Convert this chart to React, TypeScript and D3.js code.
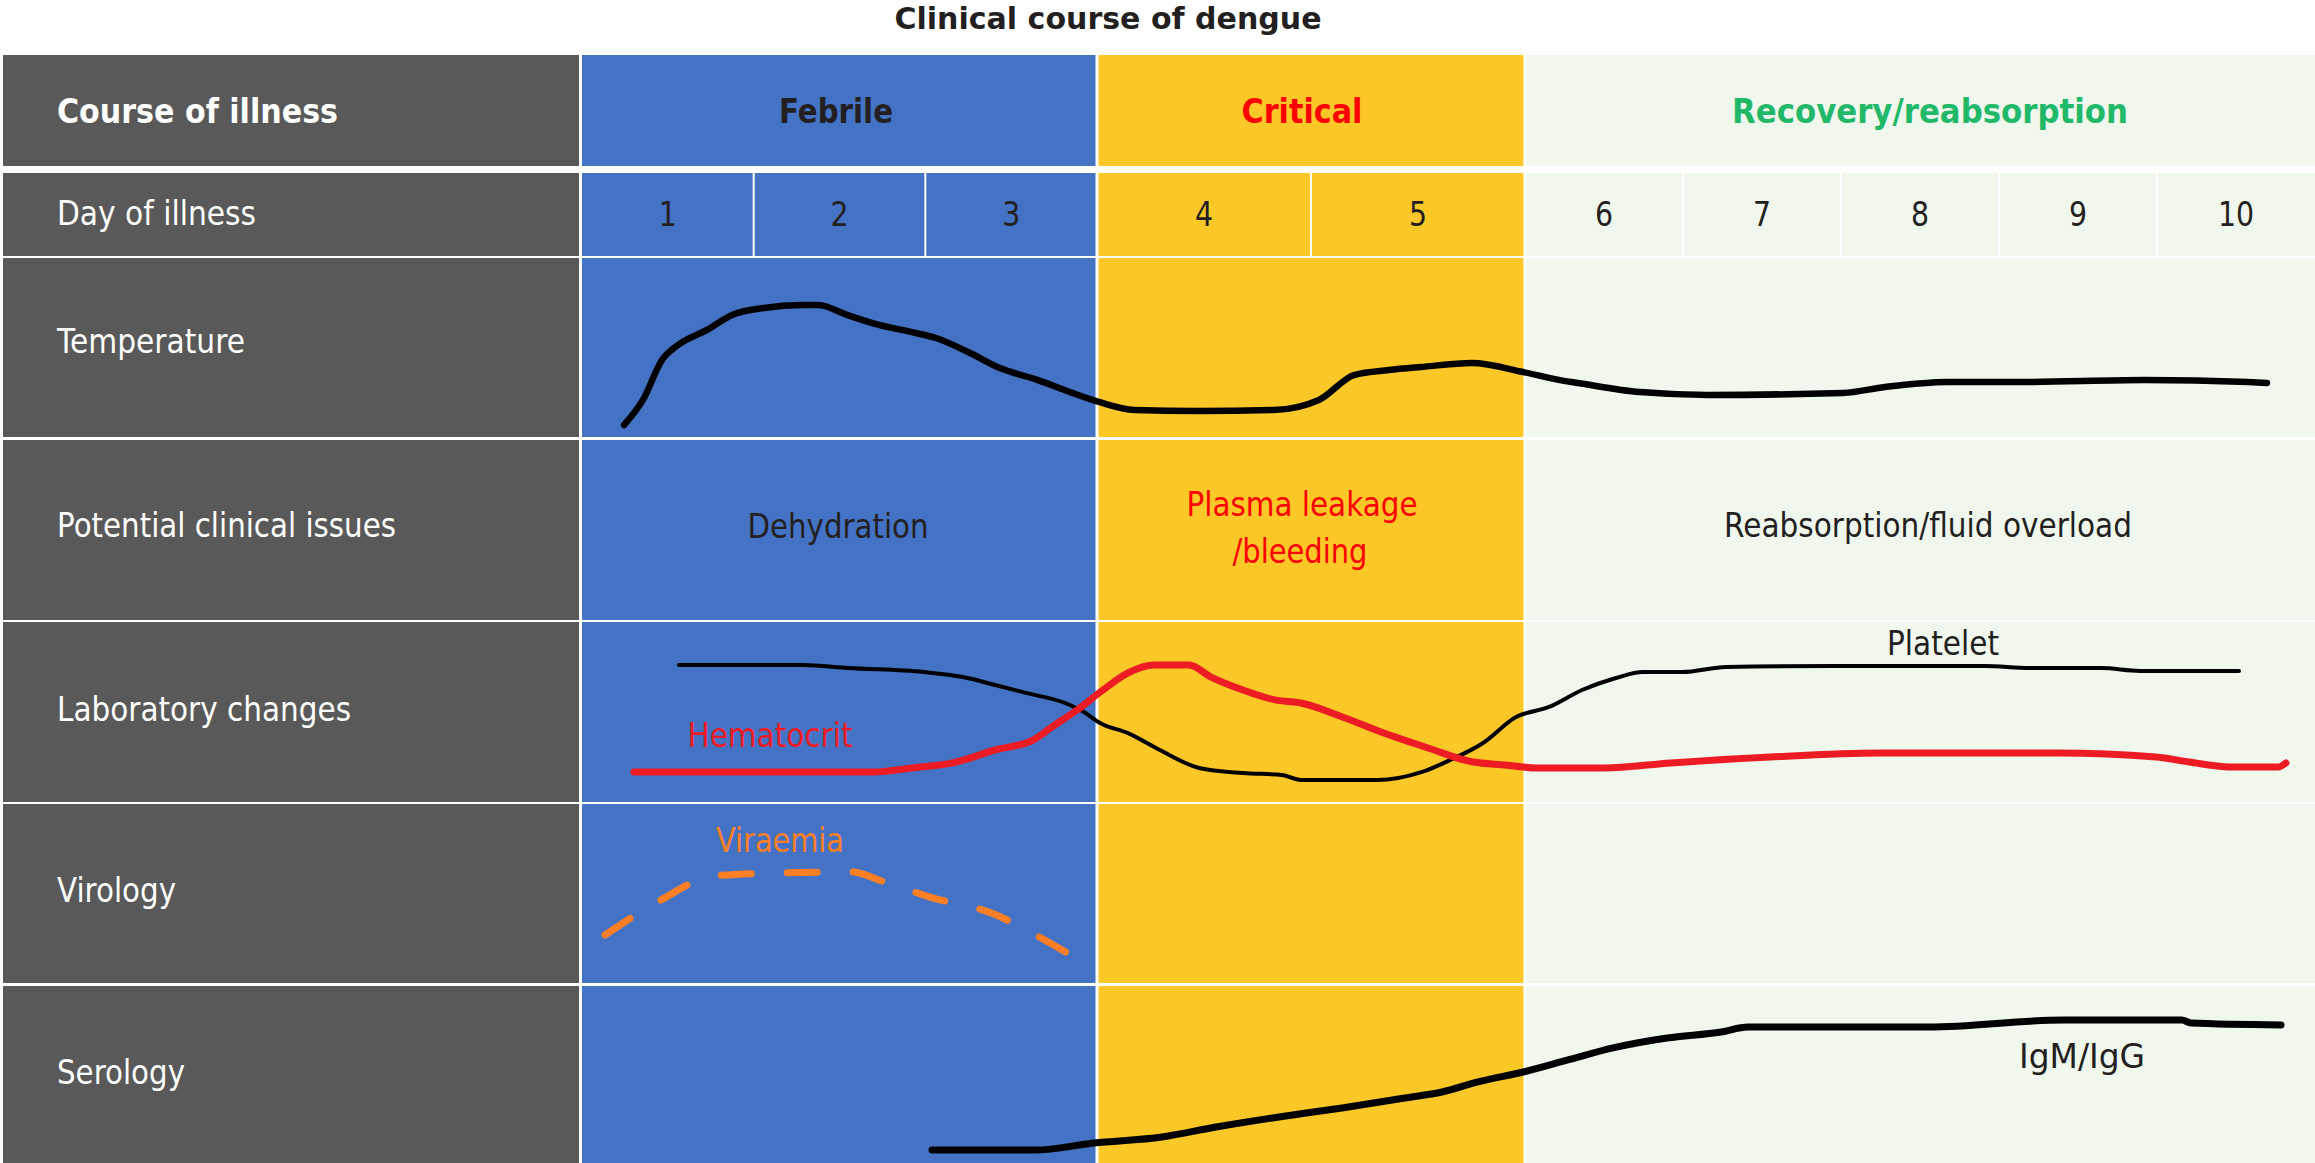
import React from "react";
import * as d3 from "d3";

// ---------- data ----------
const title = "Clinical course of dengue";
const phaseNames = ["Febrile", "Critical", "Recovery/reabsorption"];
const phaseSpans: [number, number][] = [[0, 3], [3, 5], [5, 10]];
const dayLabels = ["1", "2", "3", "4", "5", "6", "7", "8", "9", "10"];
const rowLabels = ["Course of illness", "Day of illness", "Temperature", "Potential clinical issues", "Laboratory changes", "Virology", "Serology"];
const issueTexts = ["Dehydration", "Plasma leakage", "/bleeding", "Reabsorption/fluid overload"];
const seriesNames = ["Platelet", "Hematocrit", "Viraemia", "IgM/IgG"];

// [day of illness, relative level 0-100 within its row]
const temperature: [number, number][] = [
  [0.245, 6.7], [0.355, 20.7], [0.466, 43.0], [0.559, 51.4], [0.728, 59.8], [0.874, 68.2],
  [1.06, 72.1], [1.282, 73.7], [1.375, 73.7], [1.544, 68.2], [1.73, 62.6], [1.917, 58.7],
  [2.062, 55.3], [2.249, 47.5], [2.435, 38.5], [2.656, 31.8], [2.843, 25.1], [3.009, 19.6],
  [3.173, 15.1], [3.472, 14.5], [3.827, 15.1], [4.037, 20.7], [4.201, 34.6], [4.364, 37.4],
  [4.514, 39.1], [4.752, 41.3], [4.991, 36.3], [5.222, 31.8], [5.335, 30.2], [5.728, 25.1],
  [6.158, 23.5], [7.013, 24.6], [7.278, 27.9], [7.671, 30.7], [8.133, 30.7], [8.918, 31.8],
  [9.576, 30.7], [9.696, 30.2],
];
const platelet: [number, number][] = [
  [0.565, 76.1], [1.287, 76.1], [1.55, 74.4], [1.992, 72.2], [2.219, 69.4], [2.406, 65.0],
  [2.586, 60.6], [2.814, 55.0], [2.924, 50.0], [3.014, 43.9], [3.145, 38.3], [3.294, 28.9],
  [3.477, 18.9], [3.682, 16.1], [3.864, 15.0], [3.953, 12.2], [4.308, 12.2], [4.519, 16.7],
  [4.65, 23.3], [4.804, 32.8], [4.958, 47.2], [5.152, 52.8], [5.361, 62.2], [5.576, 68.9],
  [5.747, 72.2], [5.994, 72.2], [6.272, 75.0], [6.968, 75.6], [7.911, 75.6], [8.19, 74.4],
  [8.646, 74.4], [8.892, 72.8], [9.519, 72.8],
];
const hematocrit: [number, number][] = [
  [0.303, 16.7], [1.695, 16.7], [1.922, 18.9], [2.179, 22.2], [2.406, 28.9], [2.627, 34.4],
  [2.738, 41.7], [2.884, 51.1], [3.028, 62.2], [3.145, 71.7], [3.266, 76.1], [3.43, 76.1],
  [3.533, 69.4], [3.682, 62.2], [3.832, 56.7], [3.953, 55.0], [4.159, 46.7], [4.341, 38.3],
  [4.547, 30.0], [4.757, 22.2], [4.907, 20.6], [5.076, 18.9], [5.5, 18.9], [5.924, 21.7],
  [6.551, 25.0], [7.247, 27.2], [8.367, 27.2], [8.994, 25.0], [9.203, 22.2], [9.481, 19.4],
  [9.766, 19.4], [9.816, 21.7],
];
const viraemia: [number, number][] = [
  [0.134, 26.8], [0.449, 45.8], [0.769, 59.8], [1.142, 61.5], [1.567, 62.0], [1.765, 56.4],
  [2.027, 48.0], [2.4, 38.5], [2.61, 28.5], [2.848, 15.6],
];
const serology: [number, number][] = [
  [2.039, 7.3], [2.639, 7.3], [2.982, 11.3], [3.304, 14.7], [3.556, 20.3], [3.85, 26.0],
  [4.145, 31.1], [4.439, 36.7], [4.612, 40.1], [4.78, 45.8], [4.991, 51.4], [5.272, 58.2],
  [5.557, 65.0], [5.899, 70.6], [6.241, 74.0], [6.411, 76.8], [7.557, 76.8], [8.411, 80.8],
  [9.158, 80.8], [9.215, 79.1], [9.785, 78.0],
];

// ---------- layout / style ----------
const W = 2315;
const H = 1163;
const FONT = "'DejaVu Sans', Verdana, sans-serif";
const DARK = "#231F20";
const GRAY = "#595959";
const phaseFill = ["#4472C4", "#FCC827", "#F0F7ED"];
const phaseText = [DARK, "#FF0000", "#22B86A"];
const rowBands: [number, number][] = [
  [55, 166], [173, 256], [258, 437], [440, 620], [622, 802], [804, 983], [986, 1163],
];
const labelBaselines = [123, 225, 353, 537, 721, 902, 1084];
const labelWidths = [281, 199, 188, 339, 294, 119, 128];
const grayX: [number, number] = [3, 579];

const xDay = d3.scaleLinear().domain([0, 3, 5, 10]).range([582, 1097, 1525, 2315]);
const rowScale = (band: [number, number]) => d3.scaleLinear().domain([0, 100]).range([band[1], band[0]]);
const yTemp = rowScale(rowBands[2]);
const yLab = rowScale(rowBands[4]);
const yVir = rowScale(rowBands[5]);
const ySer = rowScale(rowBands[6]);

const mkLine = (y: d3.ScaleLinear<number, number>) =>
  d3.line<[number, number]>().x((d) => xDay(d[0])).y((d) => y(d[1])).curve(d3.curveMonotoneX);

function Txt(props: { x: number; y: number; s: string; size?: number; bold?: boolean; fill?: string; anchor?: string; w?: number }) {
  const { x, y, s, size = 33, bold = false, fill = DARK, anchor = "middle", w } = props;
  return (
    <text
      x={x}
      y={y}
      fontFamily={FONT}
      fontSize={size}
      fontWeight={bold ? "bold" : "normal"}
      fill={fill}
      textAnchor={anchor}
      textLength={w}
      lengthAdjust={w ? "spacingAndGlyphs" : undefined}
    >
      {s}
    </text>
  );
}

export default function App() {
  const gap = 1.5;
  const phaseX = phaseSpans.map(([a, b]) => [a === 0 ? xDay(a) : xDay(a) + gap, b === 10 ? xDay(b) : xDay(b) - gap]);
  const dayCells = dayLabels.map((_, i) => {
    const a = i, b = i + 1;
    const boundary = (v: number) => v === 0 || v === 3 || v === 5 || v === 10;
    const x0 = a === 0 ? xDay(a) : xDay(a) + (boundary(a) ? gap : 1);
    const x1 = b === 10 ? xDay(b) : xDay(b) - (boundary(b) ? gap : 1);
    const phase = b <= 3 ? 0 : b <= 5 ? 1 : 2;
    return { x0, x1, phase, cx: (xDay(a) + xDay(b)) / 2 };
  });

  return (
    <svg width={W} height={H} style={{ position: "absolute", left: 0, top: 0, display: "block", background: "#fff" }}>
      <rect x={0} y={0} width={W} height={H} fill="#fff" />
      <Txt x={1108} y={29} s={title} size={30} bold w={427} fill={DARK} />

      {/* left gray column */}
      {rowBands.map((b, i) => (
        <rect key={"g" + i} x={grayX[0]} y={b[0]} width={grayX[1] - grayX[0]} height={b[1] - b[0]} fill={GRAY} />
      ))}
      {rowLabels.map((s, i) => (
        <Txt key={"l" + i} x={57} y={labelBaselines[i]} s={s} anchor="start" bold={i === 0} fill="#fff" w={labelWidths[i]} />
      ))}

      {/* phase columns (all rows except day row) */}
      {rowBands.map((b, i) =>
        i === 1
          ? null
          : phaseX.map((px, p) => (
              <rect key={`p${i}-${p}`} x={px[0]} y={b[0]} width={px[1] - px[0]} height={b[1] - b[0]} fill={phaseFill[p]} />
            ))
      )}
      {/* day cells */}
      {dayCells.map((c, i) => (
        <rect key={"d" + i} x={c.x0} y={rowBands[1][0]} width={c.x1 - c.x0} height={rowBands[1][1] - rowBands[1][0]} fill={phaseFill[c.phase]} />
      ))}
      {dayCells.map((c, i) => (
        <text key={"dt" + i} transform={`translate(${c.cx},${labelBaselines[1] + 1}) scale(0.86,1)`} fontFamily={FONT} fontSize={33} fill={DARK} textAnchor="middle">
          {dayLabels[i]}
        </text>
      ))}

      {/* phase headers */}
      <Txt x={836} y={123} s={phaseNames[0]} bold fill={phaseText[0]} w={114} />
      <Txt x={1302} y={123} s={phaseNames[1]} bold fill={phaseText[1]} w={121} />
      <Txt x={1930} y={123} s={phaseNames[2]} bold fill={phaseText[2]} w={396} />

      {/* potential clinical issues */}
      <Txt x={838} y={538} s={issueTexts[0]} w={181} />
      <Txt x={1302} y={516} s={issueTexts[1]} fill="#FF0000" w={231} />
      <Txt x={1300} y={563} s={issueTexts[2]} fill="#FF0000" w={135} />
      <Txt x={1928} y={537} s={issueTexts[3]} w={408} />

      {/* curves */}
      <path d={mkLine(yTemp)(temperature) || ""} fill="none" stroke="#000" strokeWidth={6.5} strokeLinecap="round" strokeLinejoin="round" />
      <path d={mkLine(yLab)(platelet) || ""} fill="none" stroke="#000" strokeWidth={4} strokeLinecap="round" strokeLinejoin="round" />
      <path d={mkLine(yLab)(hematocrit) || ""} fill="none" stroke="#ED1C24" strokeWidth={7} strokeLinecap="round" strokeLinejoin="round" />
      <path d={mkLine(yVir)(viraemia) || ""} fill="none" stroke="#FF7F27" strokeWidth={7} strokeLinecap="round" strokeDasharray="30 36" />
      <path d={mkLine(ySer)(serology) || ""} fill="none" stroke="#000" strokeWidth={7} strokeLinecap="round" strokeLinejoin="round" />

      {/* series labels */}
      <Txt x={1943} y={655} s={seriesNames[0]} w={112} />
      <Txt x={770} y={747} s={seriesNames[1]} fill="#ED1C24" w={165} />
      <Txt x={780} y={852} s={seriesNames[2]} fill="#FF7F27" w={128} />
      <Txt x={2082} y={1068} s={seriesNames[3]} w={126} />
    </svg>
  );
}
